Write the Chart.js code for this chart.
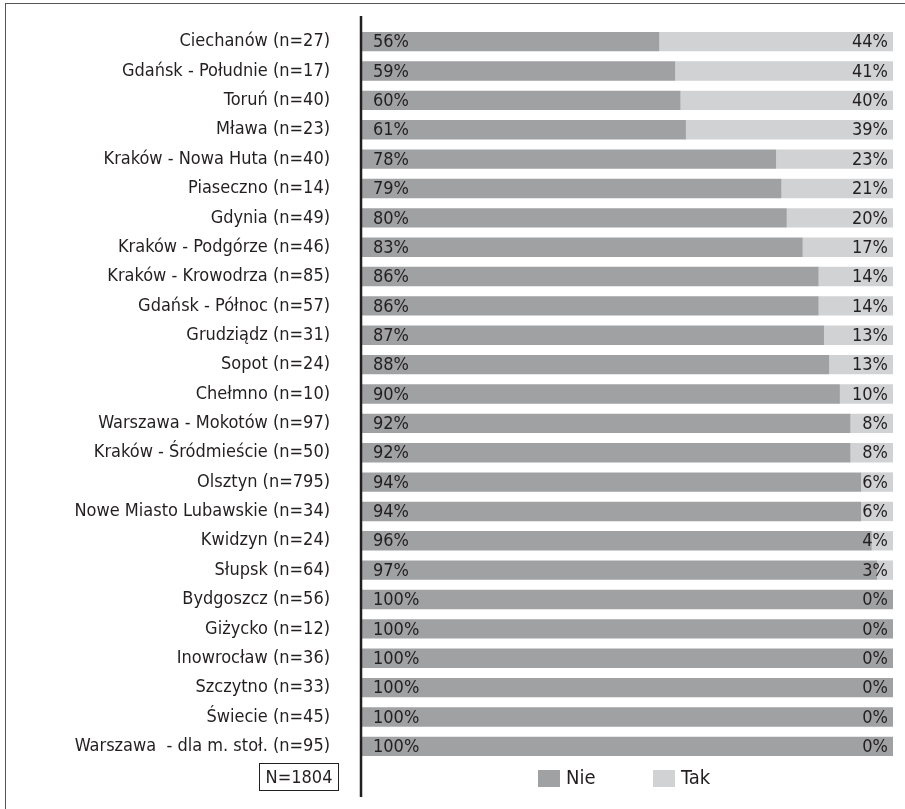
<!DOCTYPE html>
<html>
<head>
<meta charset="utf-8">
<script src="https://cdn.jsdelivr.net/npm/chart.js@4.4.1/dist/chart.umd.min.js"></script>
<style>
  html, body { margin: 0; padding: 0; background: #fff; }
  #wrap { position: relative; width: 905px; height: 809px; }
  #frame { position: absolute; left: 5px; top: 3px; right: 0; bottom: 0; border-top: 1px solid #555; border-left: 1px solid #555; }
  canvas { position: absolute; left: 0; top: 0; }
</style>
</head>
<body>
<div id="wrap">
  <div id="frame"></div>
  <canvas id="chart" width="905" height="809"></canvas>
</div>
<script>
const cities = [
  'Ciechanów (n=27)', 'Gdańsk - Południe (n=17)', 'Toruń (n=40)', 'Mława (n=23)',
  'Kraków - Nowa Huta (n=40)', 'Piaseczno (n=14)', 'Gdynia (n=49)', 'Kraków - Podgórze (n=46)',
  'Kraków - Krowodrza (n=85)', 'Gdańsk - Północ (n=57)', 'Grudziądz (n=31)', 'Sopot (n=24)',
  'Chełmno (n=10)', 'Warszawa - Mokotów (n=97)', 'Kraków - Śródmieście (n=50)', 'Olsztyn (n=795)',
  'Nowe Miasto Lubawskie (n=34)', 'Kwidzyn (n=24)', 'Słupsk (n=64)', 'Bydgoszcz (n=56)',
  'Giżycko (n=12)', 'Inowrocław (n=36)', 'Szczytno (n=33)', 'Świecie (n=45)',
  'Warszawa  - dla m. stoł. (n=95)'
];
const nie = [56, 59, 60, 61, 78, 79, 80, 83, 86, 86, 87, 88, 90, 92, 92, 94, 94, 96, 97, 100, 100, 100, 100, 100, 100];
const tak = [44, 41, 40, 39, 23, 21, 20, 17, 14, 14, 13, 13, 10, 8, 8, 6, 6, 4, 3, 0, 0, 0, 0, 0, 0];
const totalN = 'N=1804';

const FONT = "'DejaVu Sans Condensed', 'Liberation Sans Narrow', sans-serif";
const INK = '#231f20';

// percentages inside the bars, axis rule, legend and N box
const extras = {
  id: 'extras',
  afterDatasetsDraw(chart) {
    const ctx = chart.ctx;
    const area = chart.chartArea;
    const m0 = chart.getDatasetMeta(0);
    ctx.save();
    ctx.fillStyle = INK;
    ctx.font = '18px ' + FONT;
    ctx.textBaseline = 'middle';
    m0.data.forEach((bar, i) => {
      ctx.textAlign = 'left';
      ctx.fillText(nie[i] + '%', bar.base + 11, bar.y + 1);
      ctx.textAlign = 'right';
      ctx.fillText(tak[i] + '%', area.right - 5, bar.y + 1);
    });

    // vertical axis rule
    ctx.strokeStyle = INK;
    ctx.lineWidth = 2.5;
    ctx.beginPath();
    ctx.moveTo(area.left - 1, 16);
    ctx.lineTo(area.left - 1, 797);
    ctx.stroke();

    // sample size box
    ctx.lineWidth = 1;
    ctx.strokeRect(259.5, 763.5, 79, 27);
    ctx.textAlign = 'center';
    ctx.fillText(totalN, 299, 778);

    // legend under the bars
    ctx.font = '20px ' + FONT;
    const ds = chart.data.datasets;
    const ly = 770;
    let lx = 538;
    ds.forEach(d => {
      ctx.fillStyle = d.backgroundColor;
      ctx.fillRect(lx, ly, 22, 17);
      ctx.fillStyle = INK;
      ctx.textAlign = 'left';
      ctx.fillText(d.label, lx + 28, ly + 9);
      lx += 115;
    });
    ctx.restore();
  }
};

new Chart(document.getElementById('chart'), {
  type: 'bar',
  data: {
    labels: cities,
    datasets: [
      { label: 'Nie', data: nie, backgroundColor: '#a0a1a3' },
      { label: 'Tak', data: tak, backgroundColor: '#d1d2d4' }
    ]
  },
  options: {
    indexAxis: 'y',
    responsive: false,
    animation: false,
    layout: { padding: { top: 27, right: 12, bottom: 48, left: 0 } },
    datasets: { bar: { categoryPercentage: 1, barPercentage: 0.66 } },
    plugins: { legend: { display: false }, tooltip: { enabled: false } },
    scales: {
      x: { stacked: true, min: 0, max: 100, display: false },
      y: {
        stacked: true,
        border: { display: false },
        grid: { display: false, drawTicks: false },
        ticks: { color: INK, font: { family: FONT, size: 18 }, padding: 32, autoSkip: false },
        afterFit(scale) {
          // fixed label column; tick padding should not push the plot down
          scale.width = 362;
          scale.paddingTop = 0;
          scale.paddingBottom = 0;
        }
      }
    }
  },
  plugins: [extras]
});
</script>
</body>
</html>
